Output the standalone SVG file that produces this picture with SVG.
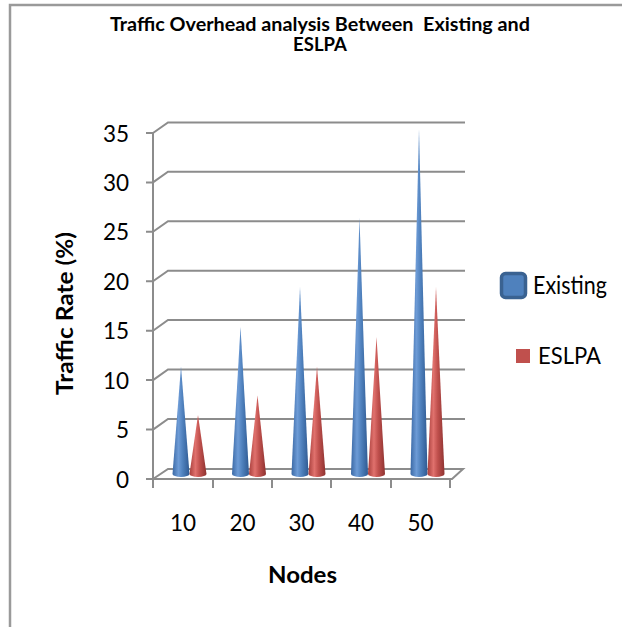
<svg xmlns="http://www.w3.org/2000/svg" width="622" height="627" viewBox="0 0 622 627">
<style>
.frame{stroke:#9a9a9a;stroke-width:2.5;fill:none}
.grid{stroke:#8c8c8c;stroke-width:2;fill:none}
.t{font-family:Lato,"Liberation Sans",Arial,sans-serif;fill:#000}
.num{font-size:22.5px;text-anchor:end}
.cat{font-size:22.5px;text-anchor:middle}
.b{font-weight:bold}
</style>
<defs>
<linearGradient id="gB" x1="0" y1="0" x2="1" y2="0">
<stop offset="0" stop-color="#3b69a5"/>
<stop offset="0.35" stop-color="#6d9bd6"/>
<stop offset="0.6" stop-color="#4f81bd"/>
<stop offset="1" stop-color="#2f5a92"/>
</linearGradient>
<linearGradient id="gR" x1="0" y1="0" x2="1" y2="0">
<stop offset="0" stop-color="#a83f3c"/>
<stop offset="0.35" stop-color="#e0716d"/>
<stop offset="0.6" stop-color="#c0504d"/>
<stop offset="1" stop-color="#8e3331"/>
</linearGradient>
</defs>
<rect width="622" height="627" fill="#fff"/>
<path class="frame" d="M10,627 L10,5 L622,5"/>
<g id="title">
<text class="t b" x="320" y="30.5" font-size="18.5" text-anchor="middle" textLength="420" lengthAdjust="spacingAndGlyphs" style="white-space:pre">Traffic Overhead analysis Between  Existing and</text>
<text class="t b" x="320" y="50.5" font-size="18.5" text-anchor="middle">ESLPA</text>
</g>
<g id="axes">
<path class="grid" d="M153,429.6 L168,419 L465,419 M153,380.1 L168,369.5 L465,369.5 M153,330.7 L168,320 L465,320 M153,281.3 L168,270.7 L465,270.7 M153,231.8 L168,221.2 L465,221.2 M153,182.4 L168,171.8 L465,171.8 M153,133 L168,122.4 L465,122.4"/>
<path class="grid" d="M153,133 L153,479 L452,479 L463,469 L168,469 L153,479"/>
<path class="grid" d="M146,133 L153,133 M146,182.4 L153,182.4 M146,231.8 L153,231.8 M146,281.3 L153,281.3 M146,330.7 L153,330.7 M146,380.1 L153,380.1 M146,429.6 L153,429.6 M146,479 L153,479 M153,479 L153,488 M213,479 L213,488 M272,479 L272,488 M331,479 L331,488 M391,479 L391,488 M450,479 L450,488"/>
<text class="t num" x="129" y="141.5">35</text>
<text class="t num" x="129" y="190.9">30</text>
<text class="t num" x="129" y="240.3">25</text>
<text class="t num" x="129" y="289.8">20</text>
<text class="t num" x="129" y="339.2">15</text>
<text class="t num" x="129" y="388.6">10</text>
<text class="t num" x="129" y="438.1">5</text>
<text class="t num" x="129" y="487.5">0</text>
<text class="t cat" x="183" y="531">10</text>
<text class="t cat" x="242.5" y="531">20</text>
<text class="t cat" x="301.5" y="531">30</text>
<text class="t cat" x="361" y="531">40</text>
<text class="t cat" x="420.5" y="531">50</text>
<text class="t b" x="302.5" y="583" font-size="23" text-anchor="middle" textLength="69" lengthAdjust="spacingAndGlyphs">Nodes</text>
<text class="t b" transform="translate(73,313.5) rotate(-90)" font-size="23" text-anchor="middle" textLength="163" lengthAdjust="spacingAndGlyphs">Traffic Rate (%)</text>
</g>
<g id="existing" fill="url(#gB)">
<path d="M172.5,474 L181,366.5 L189.5,474 A8.5,3 0 0 1 172.5,474 Z"/>
<path d="M232,474 L240.5,327 L249,474 A8.5,3 0 0 1 232,474 Z"/>
<path d="M291.5,474 L300,287 L308.5,474 A8.5,3 0 0 1 291.5,474 Z"/>
<path d="M351,474 L359.5,218 L368,474 A8.5,3 0 0 1 351,474 Z"/>
<path d="M410.5,474 L419,129 L427.5,474 A8.5,3 0 0 1 410.5,474 Z"/>
</g>
<g id="eslpa" fill="url(#gR)">
<path d="M189.5,474 L198,415 L206.5,474 A8.5,3 0 0 1 189.5,474 Z"/>
<path d="M249,474 L257.5,395.5 L266,474 A8.5,3 0 0 1 249,474 Z"/>
<path d="M308.5,474 L317,366.5 L325.5,474 A8.5,3 0 0 1 308.5,474 Z"/>
<path d="M368,474 L376.5,336.5 L385,474 A8.5,3 0 0 1 368,474 Z"/>
<path d="M427.5,474 L436,287 L444.5,474 A8.5,3 0 0 1 427.5,474 Z"/>
</g>
<g id="legend">
<rect x="501.5" y="273.5" width="24" height="24" rx="4" fill="#4f81bd" stroke="#3a6291" stroke-width="3.5"/>
<text class="t" x="533" y="294" font-size="25" font-family="Liberation Sans Narrow,Liberation Sans,Arial,sans-serif" textLength="74" lengthAdjust="spacingAndGlyphs">Existing</text>
<rect x="516" y="349" width="14" height="14" fill="#c0504d"/>
<text class="t" x="538" y="364" font-size="22.5" textLength="63" lengthAdjust="spacingAndGlyphs">ESLPA</text>
</g>
</svg>
